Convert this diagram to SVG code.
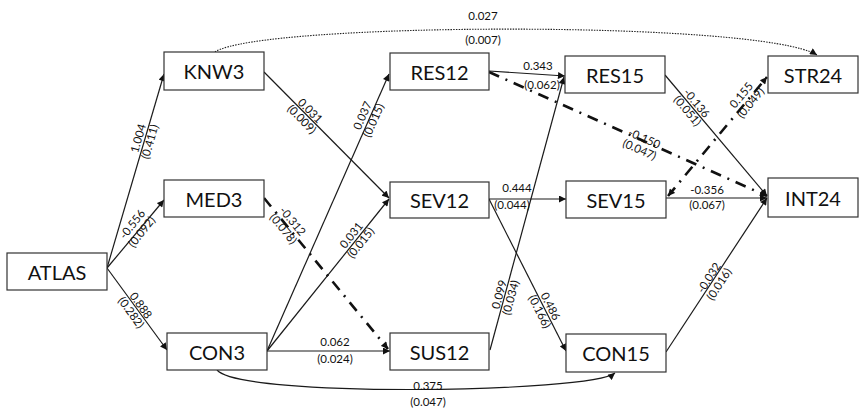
<svg xmlns="http://www.w3.org/2000/svg" width="860" height="410" viewBox="0 0 860 410">
<style>
.box{fill:#fff;stroke:#333;stroke-width:1.2}
.nl{font-family:Lato,"Open Sans","Liberation Sans",sans-serif;font-size:20px;fill:#111;text-anchor:middle;dominant-baseline:central}
.e{fill:none;stroke:#1a1a1a;stroke-width:1.2}
.dd{fill:none;stroke:#111;stroke-width:2.6;stroke-dasharray:11,7,2,7}
.dot{fill:none;stroke:#222;stroke-width:1.1;stroke-dasharray:1.5,1.2}
.el{font-family:Lato,"Open Sans","Liberation Sans",sans-serif;font-size:11.5px;fill:#111;text-anchor:middle}
</style>
<defs>
<marker id="ah" viewBox="0 0 10 10" refX="10" refY="5" markerWidth="8" markerHeight="7" markerUnits="userSpaceOnUse" orient="auto-start-reverse">
<path d="M0,0 L10,5 L0,10 z" fill="#111"/>
</marker>
</defs>
<g id="connectors">
<path class="e" d="M107,268 L164,74" marker-end="url(#ah)"/>
<path class="e" d="M107,268 L164,200" marker-end="url(#ah)"/>
<path class="e" d="M107,268 L167,350" marker-end="url(#ah)"/>
<path class="e" d="M264,72 L389,198" marker-end="url(#ah)"/>
<path class="dd" d="M264,198 L388,349" marker-end="url(#ah)"/>
<path class="e" d="M267,351 L389,74" marker-end="url(#ah)"/>
<path class="e" d="M267,351 L389,199" marker-end="url(#ah)"/>
<path class="e" d="M267,351 L390,351" marker-end="url(#ah)"/>
<path class="e" d="M217,370 C240,398 590,393 615,373" marker-end="url(#ah)"/>
<path class="dot" d="M215,52 C260,22 760,20 817,55" marker-end="url(#ah)"/>
<path class="e" d="M489,71 L565,76" marker-end="url(#ah)"/>
<path class="dd" d="M489,72 L767,196" marker-end="url(#ah)"/>
<path class="e" d="M489,199 L566,199" marker-end="url(#ah)"/>
<path class="e" d="M489,199 L566,351" marker-end="url(#ah)"/>
<path class="e" d="M490,350 L564,77" marker-end="url(#ah)"/>
<path class="e" d="M665,75 L767,196" marker-end="url(#ah)"/>
<path class="dd" d="M668,196 L767,77" marker-start="url(#ah)" marker-end="url(#ah)"/>
<path class="e" d="M666,198 L767,198" marker-end="url(#ah)"/>
<path class="e" d="M666,352 L767,198" marker-end="url(#ah)"/>
</g>
<g id="labels">
<g transform="translate(144,140) rotate(-73.9)"><text class="el" y="-2">1.004</text><text class="el" y="10">(0.411)</text></g>
<g transform="translate(137,228) rotate(-51.6)"><text class="el" y="-2">-0.556</text><text class="el" y="10">(0.092)</text></g>
<g transform="translate(136,309) rotate(54.3)"><text class="el" y="-2">0.888</text><text class="el" y="10">(0.282)</text></g>
<g transform="translate(306,115) rotate(45.2)"><text class="el" y="-2">0.031</text><text class="el" y="10">(0.009)</text></g>
<g transform="translate(288,225) rotate(50.6)"><text class="el" y="-2">-0.312</text><text class="el" y="10">(0.078)</text></g>
<g transform="translate(368,118) rotate(-66.3)"><text class="el" y="-2">0.037</text><text class="el" y="10">(0.015)</text></g>
<g transform="translate(356,239) rotate(-51.3)"><text class="el" y="-2">0.031</text><text class="el" y="10">(0.015)</text></g>
<text class="el" x="335" y="346">0.062</text><text class="el" x="335" y="363">(0.024)</text>
<text class="el" x="428" y="390">0.375</text><text class="el" x="428" y="406">(0.047)</text>
<text class="el" x="483" y="20">0.027</text><text class="el" x="483" y="44">(0.007)</text>
<text class="el" x="538" y="70">0.343</text><text class="el" x="542" y="89">(0.062)</text>
<g transform="translate(642,144) rotate(24)"><text class="el" y="-2">-0.150</text><text class="el" y="10">(0.047)</text></g>
<text class="el" x="517" y="192">0.444</text><text class="el" x="512" y="209">(0.044)</text>
<g transform="translate(545,309) rotate(63.3)"><text class="el" y="-2">0.486</text><text class="el" y="10">(0.166)</text></g>
<g transform="translate(505,296) rotate(-74.8)"><text class="el" y="-2">0.099</text><text class="el" y="10">(0.034)</text></g>
<g transform="translate(692,107) rotate(49.9)"><text class="el" y="-2">-0.136</text><text class="el" y="10">(0.051)</text></g>
<g transform="translate(746,99) rotate(-50.2)"><text class="el" y="-2">0.155</text><text class="el" y="10">(0.049)</text></g>
<text class="el" x="707" y="194">-0.356</text><text class="el" x="707" y="209">(0.067)</text>
<g transform="translate(714,281) rotate(-57)"><text class="el" y="-2">-0.032</text><text class="el" y="10">(0.016)</text></g>
</g>
<g id="ATLAS"><rect class="box" x="7" y="253" width="100" height="37"/><text class="nl" x="57" y="271.5">ATLAS</text></g>
<g id="KNW3"><rect class="box" x="164" y="52" width="100" height="38"/><text class="nl" x="214" y="71">KNW3</text></g>
<g id="MED3"><rect class="box" x="164" y="180" width="100" height="37"/><text class="nl" x="214" y="198.5">MED3</text></g>
<g id="CON3"><rect class="box" x="167" y="333" width="100" height="37"/><text class="nl" x="217" y="351.5">CON3</text></g>
<g id="RES12"><rect class="box" x="390" y="53" width="99" height="37"/><text class="nl" x="439.5" y="71.5">RES12</text></g>
<g id="SEV12"><rect class="box" x="390" y="182" width="99" height="36"/><text class="nl" x="439.5" y="200">SEV12</text></g>
<g id="SUS12"><rect class="box" x="390" y="333" width="99" height="37"/><text class="nl" x="439.5" y="351.5">SUS12</text></g>
<g id="RES15"><rect class="box" x="565" y="56" width="100" height="37"/><text class="nl" x="615" y="74.5">RES15</text></g>
<g id="SEV15"><rect class="box" x="566" y="181" width="100" height="37"/><text class="nl" x="616" y="199.5">SEV15</text></g>
<g id="CON15"><rect class="box" x="566" y="334" width="100" height="38"/><text class="nl" x="616" y="353">CON15</text></g>
<g id="STR24"><rect class="box" x="768" y="56" width="90" height="37"/><text class="nl" x="813" y="74.5">STR24</text></g>
<g id="INT24"><rect class="box" x="768" y="178" width="90" height="39"/><text class="nl" x="813" y="197.5">INT24</text></g>
</svg>
